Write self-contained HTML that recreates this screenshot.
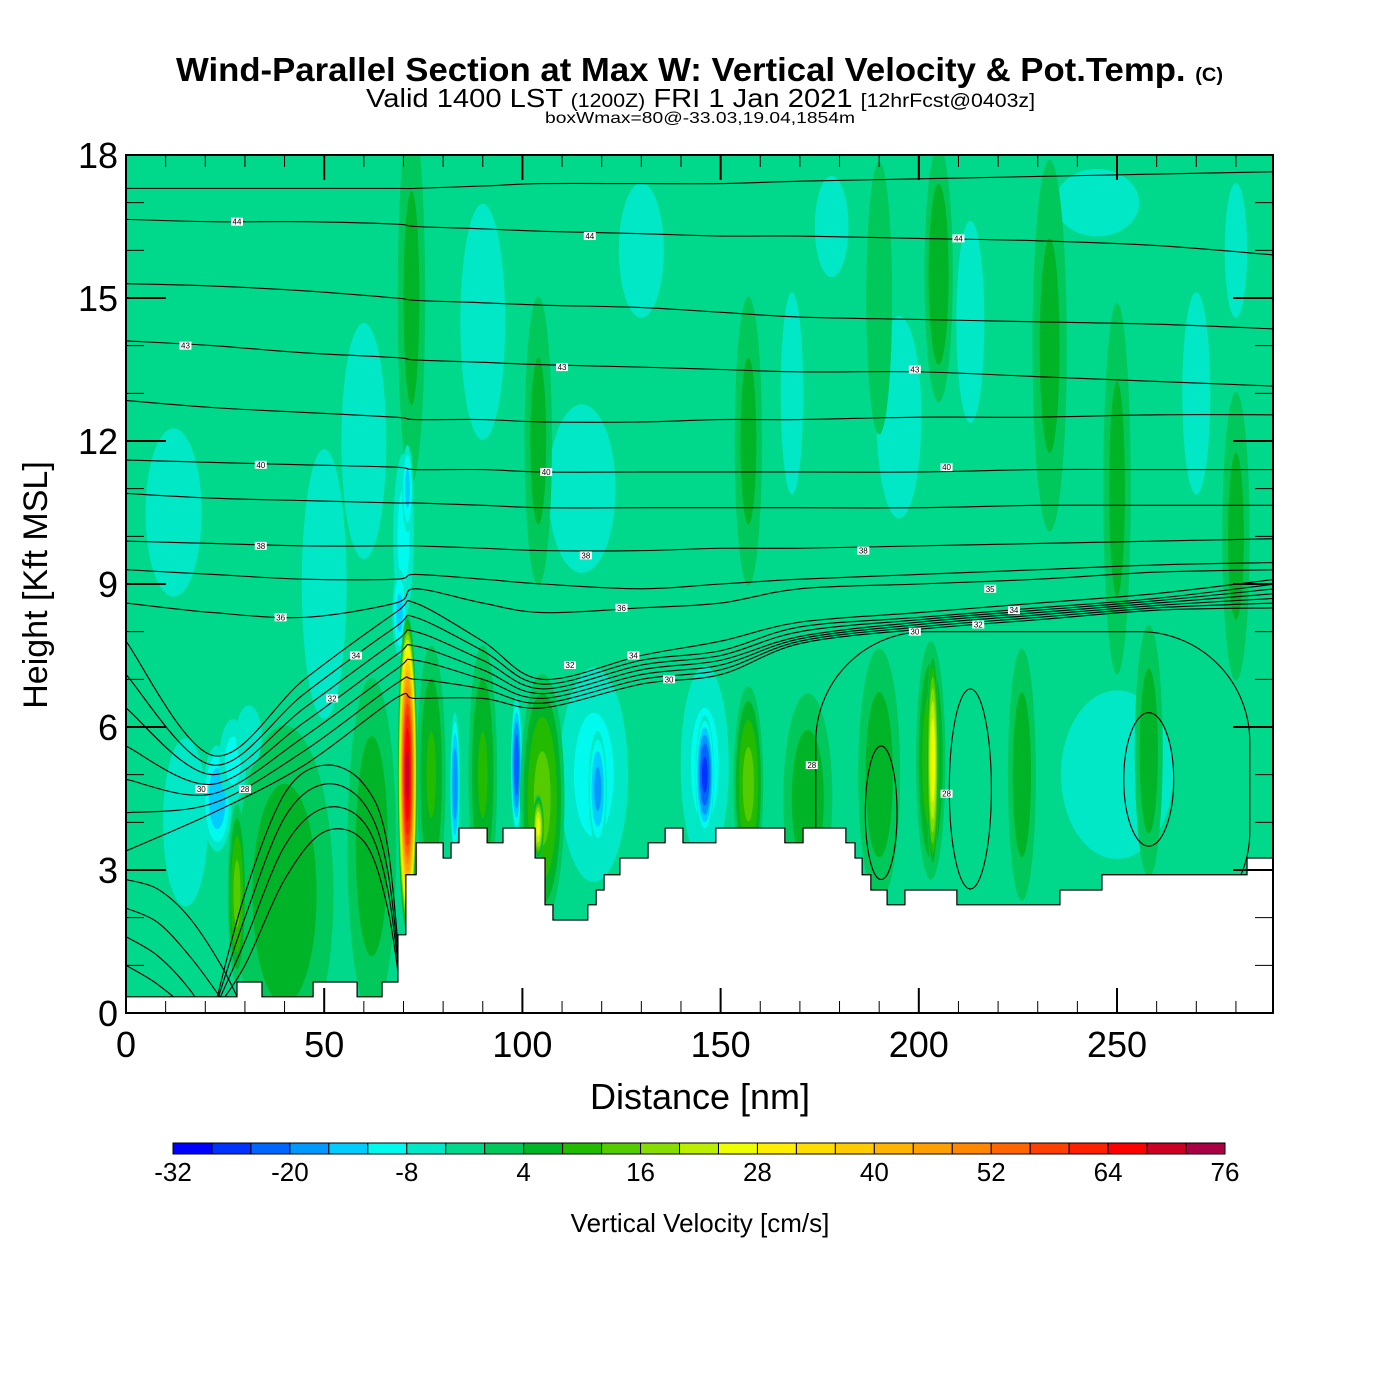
<!DOCTYPE html>
<html><head><meta charset="utf-8">
<style>
html,body{margin:0;padding:0;background:#fff;}
svg{display:block;font-family:"Liberation Sans",sans-serif;}
</style></head>
<body>
<svg id="chart" width="1400" height="1400" viewBox="0 0 1400 1400">
<defs><clipPath id="plotClip"><rect x="126" y="155" width="1147" height="858"/></clipPath></defs>
<g>
<text x="176" y="81" textLength="1047" lengthAdjust="spacingAndGlyphs" font-size="33" font-weight="bold">Wind-Parallel Section at Max W: Vertical Velocity &amp; Pot.Temp. <tspan font-size="19">(C)</tspan></text>
<text x="366" y="107" textLength="669" lengthAdjust="spacingAndGlyphs" font-size="26">Valid 1400 LST <tspan font-size="19">(1200Z)</tspan> FRI 1 Jan 2021 <tspan font-size="19">[12hrFcst@0403z]</tspan></text>
<text x="545" y="123" textLength="310" lengthAdjust="spacingAndGlyphs" font-size="16">boxWmax=80@-33.03,19.04,1854m</text>
</g>
<g id="fill" clip-path="url(#plotClip)"></g>
<g id="contours" clip-path="url(#plotClip)"></g>
<g id="terrain"></g>
<g id="labels"></g>
<rect x="126" y="155" width="1147" height="858" fill="none" stroke="#000" stroke-width="2"/>
<g id="axes"></g>
<text x="700" y="1109" text-anchor="middle" font-size="36">Distance [nm]</text>
<text transform="translate(47,585) rotate(-90)" text-anchor="middle" font-size="34">Height [Kft MSL]</text>
<g id="colorbar"></g>
<text x="700" y="1232" text-anchor="middle" font-size="26">Vertical Velocity [cm/s]</text>
</svg>
<script>
// ---- data ----
const levelColors = ["#0000ff","#0033ff","#0066ff","#0099ff","#00ccff","#00fbee","#00e8c6","#00d88c","#00c85a","#00b428","#22bb00","#55cc00","#88dd00","#bbee00","#eeff00","#ffee00","#ffdd00","#ffcc00","#ffb400","#ffa000","#ff8800","#ff6600","#ff4000","#ff2000","#ff0000","#cc0022","#aa0044"];
const levelMin = -32;
const levelStep = 4;
const colorbarLabels = [-32,-20,-8,4,16,28,40,52,64,76];
const xTicks = [0,50,100,150,200,250];
const yTicks = [0,3,6,9,12,15,18];
const backgroundW = -2;
// velocity features: distance nm, height kft, half-width nm, half-height kft, peak cm/s
const featX = [12,15,50,60,60,90,115,130,168,178,195,213,245,270,250,280, 40,62,28,77,90,172,190,226,258, 72,104,157,205,233,250,280,190, 118,146,23,27,31,70,69,71, 146,119,83,98.5, 105,104,157,203, 71,203.5];
const featH = [10.5,4,9,3,12,14.5,11,16,13,16.5,12.5,14.5,17,13,5,16, 2.5,3.5,2.5,5,5,4.5,5,5,5.5, 15,12,12,15.5,14,11,10,15, 5,5.2,4.5,5.3,5.8,10,8.4,11, 5,4.7,4.8,5.2, 4.5,3.9,4.8,5.3, 5.0,5.3];
const featW = [10,8,8,3,8,8,12,8,4,6,8,5,15,5,20,4, 14,7,2.5,4,4,7,6,4,4, 4,4,4,4,5,4,4,4, 10,7,4,4,4,3,2,1.5, 2.5,2.5,1.3,1.5, 6,1.5,4,4, 2.5,1.6];
const featD = [2.5,2.5,4,2.5,3.5,3.5,2.5,2,3,1.5,3,3,1,3,2.5,2, 4,4,2,3,3,2.5,3,3,3, 4.5,3.5,3.5,3,4.5,4.5,3.5,3.5, 2.6,2.4,1.2,1,0.8,2,1,1, 1.3,1.3,1.6,1.5, 2.8,0.7,2.2,2.7, 3.4,2.4];
const featV = [-6,-6,-6,-6,-6,-6,-6,-6,-6,-6,-6,-6,-6,-6,-6,-6, 7,7,14,9,9,7,7,7,7, 6,6,6,8,6,6,6,4, -10,-10,-16,-10,-8,-10,-14,-14, -26,-18,-20,-24, 14,26,14,12, 70,28];
// terrain step profile
const terrainX = [0,28,34.3,47.2,58.3,64.6,68.6,70.6,73.2,80,82,84,91.1,95.1,103.2,105.7,107.7,116.5,118.6,120.6,124.6,131.7,136,140.5,148.8,166.2,170.8,181.6,183.9,185.7,187.9,192,196.5,209.6,235.6,246.2,282.8];
const terrainH = [0.34,0.65,0.34,0.65,0.34,0.65,1.64,2.9,3.57,3.25,3.57,3.88,3.57,3.88,3.25,2.27,1.95,2.27,2.58,2.9,3.25,3.57,3.88,3.57,3.88,3.57,3.88,3.57,3.25,2.9,2.58,2.27,2.58,2.27,2.58,2.9,3.25];
// potential temperature isentropes: heights (kft) at knot distances
const thetaKnots = [0,22,45,68,73,90,105,130,150,170,200,230,260,290];
const thetaLines = [
 [17.3,17.3,17.3,17.3,17.3,17.35,17.4,17.4,17.4,17.45,17.5,17.55,17.6,17.65],
 [16.65,16.6,16.6,16.55,16.5,16.45,16.4,16.35,16.3,16.3,16.25,16.2,16.1,15.9],
 [15.3,15.25,15.15,15.0,14.95,14.9,14.85,14.8,14.7,14.6,14.55,14.5,14.45,14.35],
 [14.1,14.0,13.85,13.75,13.7,13.65,13.6,13.55,13.5,13.45,13.45,13.35,13.25,13.15],
 [12.85,12.7,12.6,12.5,12.45,12.45,12.4,12.4,12.45,12.45,12.5,12.5,12.55,12.55],
 [11.6,11.55,11.5,11.45,11.4,11.4,11.35,11.35,11.35,11.35,11.35,11.4,11.4,11.4],
 [10.9,10.8,10.75,10.7,10.7,10.65,10.6,10.6,10.6,10.6,10.6,10.65,10.65,10.65],
 [9.9,9.85,9.8,9.8,9.8,9.75,9.7,9.7,9.75,9.75,9.8,9.85,9.9,9.95],
 [9.3,9.2,9.1,9.1,9.2,9.1,9.0,8.9,9.0,9.1,9.2,9.3,9.4,9.45],
 [8.6,8.4,8.3,8.6,8.9,8.6,8.4,8.5,8.6,8.9,9.0,9.1,9.25,9.3],
 [7.8,5.4,7.0,8.4,8.6,7.8,7.0,7.5,7.8,8.2,8.4,8.6,8.8,9.1],
 [7.1,5.2,6.7,8.1,8.3,7.6,6.9,7.4,7.6,8.1,8.3,8.5,8.7,9.0],
 [6.4,5.0,6.4,7.8,8.0,7.4,6.8,7.3,7.5,8.0,8.25,8.45,8.65,8.9],
 [5.6,4.8,6.1,7.5,7.7,7.2,6.7,7.2,7.4,7.9,8.2,8.4,8.6,8.8],
 [4.9,4.6,5.8,7.2,7.4,7.0,6.6,7.1,7.3,7.85,8.15,8.35,8.55,8.7],
 [4.2,4.4,5.5,6.9,7.0,6.8,6.5,7.0,7.2,7.8,8.1,8.3,8.5,8.6],
 [3.4,4.2,5.2,6.6,6.6,6.6,6.4,6.9,7.1,7.75,8.05,8.25,8.45,8.5]
];
// lower-left isentropes descending to the ground
const descKnots = [0,8,16,24,30];
const descLines = [
 [2.8,2.6,2.0,1.0,0],
 [2.2,1.9,1.2,0.3,-0.5],
 [1.6,1.2,0.5,-0.5,-1],
 [1.0,0.6,0,-1,-1]
];
// arched isentropes between the two ridges
const archKnots = [22,30,40,50,60,66,70];
const archLines = [
 [0,2.5,4.6,5.2,4.8,3.5,0],
 [0,2.0,4.1,4.8,4.4,3.0,0],
 [0,1.5,3.5,4.3,4.0,2.6,0],
 [0,1.0,2.8,3.8,3.6,2.2,0]
];
// closed contours: center distance, center height, half-width, half-height
const loopX = [190.5,213,258];
const loopH = [4.2,4.7,4.9];
const loopW = [4,5.3,6.3];
const loopD = [1.4,2.1,1.4];
// broad closed contour (rounded box): left, right, bottom, top
const boxL = [174];
const boxR = [283.5];
const boxB = [1.5];
const boxT = [8.0];
// contour labels
const labelX = [28,117,210,15,110,199,34,106,207,34,116,186,39,125,58,128,52,112,137,199,19,30,218,224,215,173,207];
const labelH = [16.6,16.3,16.25,14.0,13.55,13.5,11.5,11.35,11.45,9.8,9.6,9.7,8.3,8.5,7.5,7.5,6.6,7.3,7.0,8.0,4.7,4.7,8.9,8.45,8.15,5.2,4.6];
const labelT = ["44","44","44","43","43","43","40","40","40","38","38","38","36","36","34","34","32","32","30","30","30","28","35","34","32","28","28"];

// ---- scales ----
const X0=126, X1=1273, Y0=1013, Y1=155, XMAX=289.35, YMAX=18;
const xs = d => X0 + d*(X1-X0)/XMAX;
const ys = h => Y0 - h*(Y0-Y1)/YMAX;
const NS="http://www.w3.org/2000/svg";
function mk(tag, attrs, parent){const e=document.createElementNS(NS,tag);for(const k in attrs)e.setAttribute(k,attrs[k]);parent.appendChild(e);return e;}
function colorFor(v){let k=Math.floor((v-levelMin)/levelStep);k=Math.max(0,Math.min(levelColors.length-1,k));return levelColors[k];}

// ---- fill ----
const fill=document.getElementById('fill');
const bg=mk('rect',{x:X0,y:Y1,width:X1-X0,height:Y0-Y1,fill:colorFor(backgroundW)},fill);


for(let i=0;i<featX.length;i++){
  const v=featV[i], g=mk('g',{},fill);
  
  
  const sign=v>backgroundW?1:-1;
  let t = sign>0 ? Math.floor(backgroundW/levelStep)*levelStep+levelStep : Math.floor(backgroundW/levelStep)*levelStep;
  while(sign>0 ? t<v : t>v){
    const r=Math.sqrt(Math.max(0,1-(t-backgroundW)/(v-backgroundW)));
    const band = sign>0 ? t+0.01 : t-0.01;
    mk('ellipse',{cx:xs(featX[i]),cy:ys(featH[i]),rx:Math.abs(xs(featW[i]*r)-xs(0)),ry:Math.abs(ys(0)-ys(featD[i]*r)),fill:colorFor(band)},g);
    t+=sign*levelStep;
  }
}

// ---- contours ----
const cg=document.getElementById('contours');
function smoothPath(pts){
  let d=`M${pts[0][0]},${pts[0][1]}`;
  for(let i=0;i<pts.length-1;i++){
    const p0=pts[Math.max(0,i-1)],p1=pts[i],p2=pts[i+1],p3=pts[Math.min(pts.length-1,i+2)];
    const c1=[p1[0]+(p2[0]-p0[0])/6,p1[1]+(p2[1]-p0[1])/6];
    const c2=[p2[0]-(p3[0]-p1[0])/6,p2[1]-(p3[1]-p1[1])/6];
    d+=` C${c1[0]},${c1[1]} ${c2[0]},${c2[1]} ${p2[0]},${p2[1]}`;
  }
  return d;
}
function drawLines(knots, lines, name){
  lines.forEach(line=>{
    const pts=knots.map((k,j)=>[xs(k),ys(line[j])]);
    const p=mk('path',{d:smoothPath(pts),fill:'none',stroke:'#000','stroke-width':1.1},cg);
    
    
  });
}
drawLines(thetaKnots, thetaLines, 'isentrope');
drawLines(descKnots, descLines, 'isentrope-descending');
drawLines(archKnots, archLines, 'isentrope-arch');
for(let i=0;i<loopX.length;i++){
  const e=mk('ellipse',{cx:xs(loopX[i]),cy:ys(loopH[i]),rx:xs(loopW[i])-xs(0),ry:ys(0)-ys(loopD[i]),fill:'none',stroke:'#000','stroke-width':1.1},cg);
  
  
}
for(let i=0;i<boxL.length;i++){
  const b=mk('rect',{x:xs(boxL[i]),y:ys(boxT[i]),width:xs(boxR[i])-xs(boxL[i]),height:ys(boxB[i])-ys(boxT[i]),rx:110,ry:110,fill:'none',stroke:'#000','stroke-width':1.1},cg);
  
  
}

// ---- terrain ----
const tg=document.getElementById('terrain');
let td=`M${xs(0)},${ys(0)}`;
for(let i=0;i<terrainX.length;i++){
  const xa=xs(terrainX[i]), xb=i+1<terrainX.length?xs(terrainX[i+1]):X1;
  td+=` L${xa},${ys(terrainH[i])} L${xb},${ys(terrainH[i])}`;
}
td+=` L${X1},${ys(0)} Z`;
const tp=mk('path',{d:td,fill:'#fff',stroke:'#000','stroke-width':1.2},tg);



// ---- contour labels ----
const lg=document.getElementById('labels');
for(let i=0;i<labelX.length;i++){
  const g=mk('g',{},lg);
  
  
  mk('rect',{x:xs(labelX[i])-6,y:ys(labelH[i])-4,width:12,height:8,fill:'#fff'},g);
  const t=mk('text',{x:xs(labelX[i]),y:ys(labelH[i])+3,'text-anchor':'middle','font-size':8},g);
  t.textContent=labelT[i];
}

// ---- axes ----
const ag=document.getElementById('axes');
for(let d=0;d<=XMAX;d+=10){
  const major=d%50===0, L=major?25:12;
  mk('line',{x1:xs(d),x2:xs(d),y1:Y0,y2:Y0-L,stroke:'#000','stroke-width':major?2:1},ag);
  mk('line',{x1:xs(d),x2:xs(d),y1:Y1,y2:Y1+L,stroke:'#000','stroke-width':major?2:1},ag);
}
xTicks.forEach(d=>{
  const t=mk('text',{x:xs(d),y:Y0+44,'text-anchor':'middle','font-size':36},ag);
  
  
  t.textContent=d;
});
for(let h=0;h<=YMAX;h++){
  const major=h%3===0, L=major?40:18;
  mk('line',{x1:X0,x2:X0+L,y1:ys(h),y2:ys(h),stroke:'#000','stroke-width':major?2:1},ag);
  mk('line',{x1:X1,x2:X1-L,y1:ys(h),y2:ys(h),stroke:'#000','stroke-width':major?2:1},ag);
}
yTicks.forEach(h=>{
  const t=mk('text',{x:X0-8,y:ys(h)+13,'text-anchor':'end','font-size':36},ag);
  
  
  t.textContent=h;
});

// ---- colorbar ----
const cb=document.getElementById('colorbar');
const CB0=173, CB1=1225, cw=(CB1-CB0)/levelColors.length;
levelColors.forEach((c,i)=>{
  const r=mk('rect',{x:CB0+i*cw,y:1143,width:cw,height:11,fill:c,stroke:'#000','stroke-width':1},cb);
  
  
});
colorbarLabels.forEach(v=>{
  const t=mk('text',{x:CB0+(v-levelMin)/levelStep*cw,y:1181,'text-anchor':'middle','font-size':26},cb);
  
  
  t.textContent=v;
});
</script>
</body></html>
